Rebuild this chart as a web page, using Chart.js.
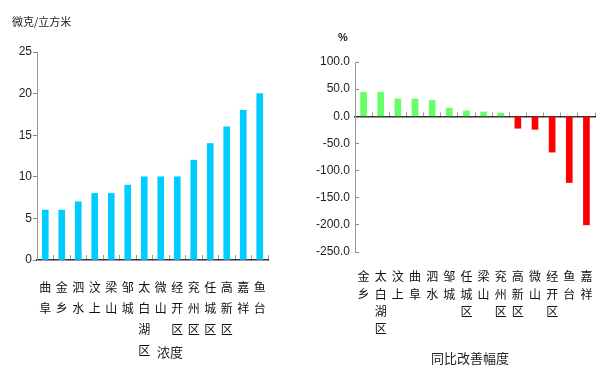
<!DOCTYPE html>
<html>
<head>
<meta charset="utf-8">
<script src="https://cdn.jsdelivr.net/npm/chart.js@4/dist/chart.umd.min.js"></script>
<style>
  html, body { margin: 0; padding: 0; background: #fff; }
  body { width: 616px; height: 373px; position: relative; overflow: hidden; }
  #c1 { position: absolute; left: 0; top: 0; }
  #c2 { position: absolute; left: 300px; top: 0; }
</style>
</head>
<body>
<canvas id="c1" width="300" height="373"></canvas>
<canvas id="c2" width="316" height="373"></canvas>
<script>
// ---- data ----
const concCategories = ['曲阜', '金乡', '泗水', '汶上', '梁山', '邹城', '太白湖区', '微山', '经开区', '兖州区', '任城区', '高新区', '嘉祥', '鱼台'];
const concValues = [6, 6, 7, 8, 8, 9, 10, 10, 10, 12, 14, 16, 18, 20];
const concTicks = [0, 5, 10, 15, 20, 25];

const changeCategories = ['金乡', '太白湖区', '汶上', '曲阜', '泗水', '邹城', '任城区', '梁山', '兖州区', '高新区', '微山', '经开区', '鱼台', '嘉祥'];
const changeValues = [44, 44, 32, 32, 29, 15, 10, 8, 6, -22, -24, -66, -122, -200];
const changeTicks = [100, 50, 0, -50, -100, -150, -200, -250];

const leftUnit = '微克/立方米';
const leftTitle = '浓度';
const rightUnit = '%';
const rightTitle = '同比改善幅度';

// ---- styles ----
const CJK = '"Noto Sans CJK SC", "Noto Sans", sans-serif';
const NUM = '"Liberation Sans Narrow", "Liberation Sans", Arial, sans-serif';
const vert = s => Array.from(s);

function textPlugin(items) {
  return {
    id: 'texts',
    afterDraw(chart) {
      const ctx = chart.ctx;
      ctx.save();
      ctx.fillStyle = '#222';
      ctx.textBaseline = 'middle';
      items.forEach(it => {
        ctx.font = it.font;
        ctx.textAlign = it.align;
        ctx.fillText(it.text, it.x, it.y);
      });
      ctx.restore();
    }
  };
}

// ---- left chart ----
new Chart(document.getElementById('c1'), {
  type: 'bar',
  data: {
    labels: concCategories.map(vert),
    datasets: [{
      data: concValues,
      backgroundColor: '#00ccff',
      barThickness: 6
    }]
  },
  options: {
    responsive: false,
    animation: false,
    layout: { padding: { top: 52, right: 32, left: 0, bottom: 0 } },
    plugins: { legend: { display: false }, tooltip: { enabled: false } },
    scales: {
      x: {
        offset: true,
        grid: { offset: true, drawOnChartArea: false, tickLength: -5, color: '#999' },
        border: { color: '#333', width: 1.5 },
        ticks: {
          autoSkip: false, maxRotation: 0, minRotation: 0,
          color: '#111', padding: 22,
          font: { family: CJK, size: 12, lineHeight: 1.75 }
        },
        afterFit: s => { s.height = 113; }
      },
      y: {
        min: 0, max: 25,
        afterBuildTicks: s => { s.ticks = concTicks.map(v => ({ value: v })); },
        grid: { drawOnChartArea: false, tickLength: 4, color: '#888' },
        border: { color: '#999' },
        ticks: { color: '#222', padding: 1, font: { family: NUM, size: 12 } },
        afterFit: s => { s.width = 37; }
      }
    }
  },
  plugins: [textPlugin([
    { text: leftUnit, x: 12, y: 22, align: 'left', font: '11px ' + CJK },
    { text: leftTitle, x: 170, y: 352, align: 'center', font: '13px ' + CJK }
  ])]
});

// ---- right chart ----
new Chart(document.getElementById('c2'), {
  type: 'bar',
  data: {
    labels: changeCategories,
    datasets: [{
      data: changeValues,
      xAxisID: 'x',
      backgroundColor: ctx => (ctx.raw >= 0 ? '#66ff66' : '#ff0000'),
      barThickness: 6
    }]
  },
  options: {
    responsive: false,
    animation: false,
    layout: { padding: { top: 62, right: 21, left: 0, bottom: 0 } },
    plugins: { legend: { display: false }, tooltip: { enabled: false } },
    scales: {
      x: {
        position: { y: 0 },
        offset: true,
        grid: { offset: true, drawOnChartArea: false, tickLength: -5, color: '#999' },
        border: { color: '#333', width: 1.5 },
        ticks: { display: false }
      },
      x2: {
        type: 'category',
        position: 'bottom',
        labels: changeCategories.map(vert),
        offset: true,
        grid: { display: false },
        border: { display: false },
        ticks: {
          autoSkip: false, maxRotation: 0, minRotation: 0,
          color: '#111', padding: 8,
          font: { family: CJK, size: 12, lineHeight: 1.45 }
        },
        afterFit: s => { s.height = 121; }
      },
      y: {
        min: -250, max: 100,
        afterBuildTicks: s => { s.ticks = changeTicks.map(v => ({ value: v })); },
        grid: { drawOnChartArea: false, tickLength: -4, color: '#888' },
        border: { color: '#999' },
        ticks: {
          color: '#222', padding: 9, font: { family: NUM, size: 12 },
          callback: v => Number(v).toFixed(1)
        },
        afterFit: s => { s.width = 55; }
      }
    }
  },
  plugins: [textPlugin([
    { text: rightUnit, x: 43, y: 38, align: 'center', font: 'bold 11px ' + NUM },
    { text: rightTitle, x: 170, y: 358, align: 'center', font: '13px ' + CJK }
  ])]
});
</script>
</body>
</html>
